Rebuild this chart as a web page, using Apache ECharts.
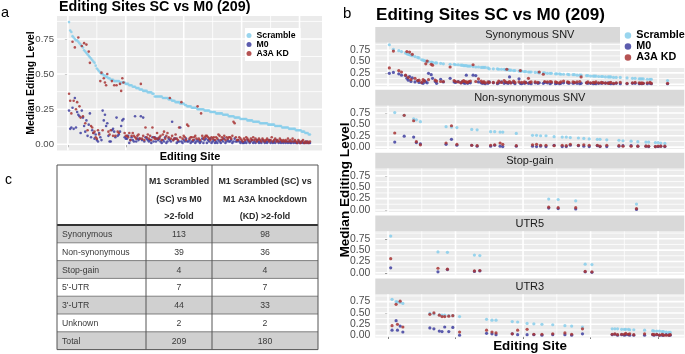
<!DOCTYPE html>
<html lang="en">
  <head>
    <meta charset="UTF-8" />
    <title>Editing Sites SC vs M0 (209)</title>
    <script src="https://cdn.jsdelivr.net/npm/echarts@6.0.0/dist/echarts.min.js"></script>
    <style>
      html, body { margin: 0; padding: 0; background: #fff; }
    </style>
  </head>

  <body>
    <div id="main" style="width: 685px; height: 354px"></div>

    <script>
      // median editing level per site, sites ranked by Scramble level (1..209)
      var scramble = [
        0.87, 0.81, 0.80, 0.77, 0.76, 0.75, 0.74, 0.74, 0.73, 0.72,
        0.71, 0.70, 0.69, 0.67, 0.66, 0.65, 0.64, 0.63, 0.62, 0.61,
        0.60, 0.59, 0.58, 0.56, 0.54, 0.53, 0.52, 0.51, 0.50, 0.50,
        0.49, 0.49, 0.48, 0.48, 0.47, 0.47, 0.46, 0.46, 0.46, 0.45,
        0.45, 0.45, 0.45, 0.45, 0.44, 0.44, 0.44, 0.44, 0.44, 0.43,
        0.43, 0.43, 0.42, 0.42, 0.42, 0.41, 0.41, 0.41, 0.40, 0.40,
        0.40, 0.39, 0.39, 0.39, 0.38, 0.38, 0.38, 0.38, 0.37, 0.37,
        0.37, 0.37, 0.36, 0.36, 0.34, 0.34, 0.34, 0.34, 0.34, 0.34,
        0.34, 0.33, 0.33, 0.33, 0.33, 0.33, 0.32, 0.32, 0.32, 0.31,
        0.31, 0.31, 0.30, 0.30, 0.30, 0.30, 0.29, 0.29, 0.29, 0.29,
        0.28, 0.28, 0.27, 0.27, 0.27, 0.27, 0.26, 0.26, 0.26, 0.26,
        0.26, 0.25, 0.25, 0.25, 0.25, 0.25, 0.25, 0.24, 0.24, 0.24,
        0.24, 0.24, 0.23, 0.23, 0.23, 0.23, 0.23, 0.22, 0.22, 0.22,
        0.22, 0.22, 0.22, 0.21, 0.21, 0.21, 0.21, 0.21, 0.20, 0.20,
        0.20, 0.20, 0.20, 0.19, 0.19, 0.19, 0.19, 0.19, 0.18, 0.18,
        0.18, 0.18, 0.18, 0.18, 0.17, 0.17, 0.17, 0.17, 0.17, 0.16,
        0.16, 0.16, 0.16, 0.16, 0.16, 0.15, 0.15, 0.15, 0.15, 0.15,
        0.15, 0.15, 0.14, 0.14, 0.14, 0.14, 0.14, 0.14, 0.13, 0.13,
        0.13, 0.13, 0.13, 0.13, 0.12, 0.12, 0.12, 0.12, 0.12, 0.12,
        0.11, 0.11, 0.11, 0.11, 0.11, 0.11, 0.10, 0.10, 0.10, 0.10,
        0.10, 0.09, 0.09, 0.09, 0.08, 0.08, 0.08, 0.07, 0.07
      ];
      var m0 = [
        0.24, 0.11, 0.12, 0.26, 0.11, 0.33, 0.12, 0.23, 0.21, 0.20,
        0.08, 0.24, 0.19, 0.13, 0.09, 0.17, 0.06, 0.14, 0.22, 0.05,
        0.10, 0.08, 0.04, 0.07, 0.03, 0.02, 0.08, 0.05, 0.03, 0.24,
        0.17, 0.21, 0.13, 0.15, 0.06, 0.02, 0.02, 0.10, 0.11, 0.09,
        0.05, 0.19, 0.06, 0.07, 0.09, 0.13, 0.17, 0.18, 0.05, 0.04,
        0.04, 0.06, 0.01, 0.03, 0.05, 0.03, 0.02, 0.20, 0.02, 0.04,
        0.03, 0.04, 0.20, 0.03, 0.19, 0.02, 0.05, 0.04, 0.03, 0.02,
        0.03, 0.01, 0.05, 0.02, 0.05, 0.02, 0.04, 0.03, 0.04, 0.02,
        0.01, 0.03, 0.02, 0.05, 0.01, 0.02, 0.04, 0.03, 0.02, 0.16,
        0.03, 0.04, 0.04, 0.01, 0.02, 0.02, 0.12, 0.02, 0.01, 0.03,
        0.02, 0.04, 0.02, 0.02, 0.03, 0.01, 0.02, 0.02, 0.03, 0.01,
        0.02, 0.03, 0.02, 0.01, 0.02, 0.04, 0.01, 0.03, 0.04, 0.01,
        0.03, 0.02, 0.04, 0.01, 0.02, 0.03, 0.01, 0.02, 0.01, 0.03,
        0.02, 0.01, 0.03, 0.02, 0.04, 0.01, 0.02, 0.03, 0.02, 0.02,
        0.03, 0.01, 0.02, 0.04, 0.02, 0.02, 0.03, 0.02, 0.01, 0.02,
        0.01, 0.01, 0.02, 0.01, 0.03, 0.02, 0.01, 0.02, 0.03, 0.01,
        0.02, 0.01, 0.03, 0.02, 0.01, 0.02, 0.01, 0.03, 0.02, 0.01,
        0.02, 0.01, 0.02, 0.03, 0.01, 0.02, 0.01, 0.02, 0.01, 0.03,
        0.02, 0.01, 0.02, 0.01, 0.02, 0.01, 0.02, 0.01, 0.02, 0.01,
        0.02, 0.01, 0.01, 0.02, 0.01, 0.02, 0.01, 0.01, 0.02, 0.01,
        0.01, 0.02, 0.01, 0.01, 0.01, 0.02, 0.01, 0.01, 0.01
      ];
      var kd = [
        0.36, 0.31, 0.22, 0.73, 0.31, 0.69, 0.25, 0.30, 0.76, 0.27,
        0.19, 0.70, 0.20, 0.72, 0.15, 0.71, 0.10, 0.66, 0.58, 0.13,
        0.12, 0.08, 0.09, 0.05, 0.04, 0.10, 0.07, 0.45, 0.51, 0.10,
        0.47, 0.44, 0.42, 0.50, 0.09, 0.07, 0.10, 0.45, 0.06, 0.42,
        0.06, 0.42, 0.09, 0.08, 0.43, 0.38, 0.47, 0.44, 0.08, 0.06,
        0.06, 0.05, 0.08, 0.03, 0.06, 0.08, 0.06, 0.05, 0.04, 0.06,
        0.07, 0.04, 0.43, 0.04, 0.06, 0.03, 0.12, 0.05, 0.07, 0.04,
        0.06, 0.03, 0.12, 0.05, 0.04, 0.04, 0.08, 0.04, 0.05, 0.06,
        0.03, 0.07, 0.09, 0.04, 0.06, 0.08, 0.05, 0.33, 0.04, 0.06,
        0.03, 0.04, 0.07, 0.04, 0.03, 0.12, 0.05, 0.30, 0.04, 0.06,
        0.05, 0.03, 0.14, 0.13, 0.04, 0.05, 0.05, 0.03, 0.05, 0.06,
        0.04, 0.27, 0.04, 0.03, 0.22, 0.06, 0.04, 0.05, 0.06, 0.06,
        0.05, 0.04, 0.03, 0.05, 0.04, 0.05, 0.03, 0.05, 0.04, 0.07,
        0.06, 0.03, 0.05, 0.04, 0.06, 0.03, 0.05, 0.04, 0.05, 0.05,
        0.04, 0.06, 0.16, 0.15, 0.05, 0.03, 0.03, 0.05, 0.04, 0.03,
        0.02, 0.04, 0.03, 0.05, 0.04, 0.03, 0.02, 0.04, 0.03, 0.05,
        0.03, 0.04, 0.02, 0.03, 0.04, 0.03, 0.02, 0.04, 0.03, 0.02,
        0.03, 0.04, 0.03, 0.02, 0.03, 0.05, 0.02, 0.03, 0.04, 0.02,
        0.03, 0.02, 0.04, 0.03, 0.02, 0.03, 0.02, 0.03, 0.02, 0.04,
        0.02, 0.03, 0.02, 0.04, 0.02, 0.03, 0.02, 0.01, 0.03, 0.02,
        0.01, 0.02, 0.03, 0.01, 0.02, 0.01, 0.02, 0.01, 0.02
      ];
      // S synonymous, N non-synonymous, G stop-gain, F UTR5, T UTR3, U unknown
      var siteType = [
        "S","F","T","S","N","T","T","S","T","S",
        "T","N","S","S","S","S","S","S","N","S",
        "N","S","S","N","S","S","S","S","S","S",
        "T","S","S","T","S","S","F","T","S","T",
        "S","T","N","F","T","S","N","T","S","S",
        "N","S","T","S","S","S","S","S","S","S",
        "S","N","S","F","S","N","S","F","S","S",
        "S","S","T","S","S","N","T","S","N","T",
        "S","S","N","S","N","S","S","S","S","S",
        "S","T","S","S","N","T","S","S","S","U",
        "S","S","T","S","S","S","N","T","S","N",
        "S","S","N","T","S","S","N","S","G","S",
        "S","T","N","S","S","G","S","S","N","S",
        "T","N","S","S","N","T","S","S","G","S",
        "N","S","S","T","N","F","S","S","N","S",
        "F","S","S","S","N","S","N","S","S","U",
        "S","N","S","S","S","T","S","T","S","T",
        "N","S","T","N","T","T","S","T","T","N",
        "S","T","S","G","N","S","S","S","S","T",
        "N","S","N","S","S","T","T","N","T","N",
        "T","N","T","T","N","T","S","T","T"
      ];
      var facetCodes = ["S", "N", "G", "F", "T"];
      var facetNames = ["Synonymous SNV", "Non-synonymous SNV", "Stop-gain", "UTR5", "UTR3"];
      var seriesNames = ["Scramble", "M0", "A3A KD"];
      var yTicks = [0, 0.25, 0.5, 0.75];
      var yMinor = [0.125, 0.375, 0.625, 0.875];
      var xTicks = [0, 50, 100, 150, 200];
      var xMinor = [25, 75, 125, 175];

      var tableRows = ["Synonymous", "Non-synonymous", "Stop-gain", "5'-UTR", "3'-UTR", "Unknown", "Total"];
      var countSCvsM0 = [113, 39, 4, 7, 44, 2, 209];
      var countSCvsKD = [98, 36, 4, 7, 33, 2, 180];
      var headM0 = ["M1 Scrambled", "(SC) vs M0", ">2-fold"];
      var headKD = ["M1 Scrambled (SC) vs", "M1 A3A knockdown", "(KD) >2-fold"];

      var FONT = "'Liberation Sans', Arial, Helvetica, sans-serif";
      var colors = ["#87CEEB", "#3F3FA0", "#A83535"];
      var yMin = -0.0435, yMax = 0.9135, xMin = -9.4, xMax = 219.4;

      var myChart = echarts.init(document.getElementById("main"));

      function pick(values, code) {
        var out = [];
        for (var i = 0; i < values.length; i++) {
          if (code === null || siteType[i] === code) out.push([i + 1, values[i]]);
        }
        return out;
      }

      // panel a + five facets of panel b
      var boxes = [{ left: 57, top: 16, width: 265, height: 134.4 }];
      for (var f = 0; f < 5; f++) {
        boxes.push({ left: 375.3, top: 42.8 + 62.85 * f, width: 309, height: 43.4 });
      }

      var grids = [], xAxes = [], yAxes = [], series = [], graphics = [];

      boxes.forEach(function (b, g) {
        var isA = g === 0;
        grids.push({ left: b.left, top: b.top, width: b.width, height: b.height, show: false });
        // grey panel background
        graphics.push({
          type: "rect", z: 0, silent: true,
          shape: { x: b.left, y: b.top, width: b.width, height: b.height },
          style: { fill: "#EBEBEB" }
        });
        xAxes.push({
          type: "value", gridIndex: g, min: xMin, max: xMax,
          axisLine: { show: false },
          axisLabel: { show: false },
          splitLine: { show: false },
          axisTick: {
            show: isA || g === 5, length: 3, customValues: xTicks,
            lineStyle: { color: "#333", width: 1 }
          }
        });
        yAxes.push({
          type: "value", gridIndex: g, min: yMin, max: yMax,
          axisLine: { show: false },
          splitLine: { show: false },
          axisTick: { show: true, length: 3, customValues: yTicks, lineStyle: { color: "#333", width: 1 } },
          axisLabel: {
            customValues: yTicks, margin: isA ? 3 : 5,
            fontSize: isA ? 9.6 : 10.4, color: "#4D4D4D", fontFamily: FONT,
            formatter: function (v) { return v.toFixed(2); }
          }
        });

        var code = isA ? null : facetCodes[g - 1];
        [scramble, m0, kd].forEach(function (vals, k) {
          series.push({
            name: seriesNames[k], type: "scatter", xAxisIndex: g, yAxisIndex: g,
            symbolSize: isA ? 2.6 : 3.2, z: 3 + k,
            itemStyle: { color: colors[k], opacity: 0.85 },
            data: pick(vals, code)
          });
        });

        if (!isA) {
          graphics.push({
            type: "rect", z: 1,
            shape: { x: b.left, y: b.top - 15.8, width: b.width, height: 15.8 },
            style: { fill: "#D9D9D9" }
          });
          graphics.push({
            type: "text", z: 2, x: b.left + b.width / 2, y: b.top - 7.6,
            style: {
              text: facetNames[g - 1], fontSize: 11, fontFamily: FONT, fill: "#1A1A1A",
              align: "center", verticalAlign: "middle"
            }
          });
        }
      });

      function txt(x, y, text, size, opts) {
        opts = opts || {};
        return {
          type: "text", x: x, y: y, z: opts.z || 6, rotation: opts.rotation || 0,
          style: {
            text: text, fontSize: size, fontFamily: FONT,
            fontWeight: opts.bold ? "bold" : "normal",
            fill: opts.fill || "#000", align: opts.align || "left", verticalAlign: "middle"
          }
        };
      }

      // panel letters, titles, axis names
      graphics.push(txt(1, 13, "a", 14.5));
      graphics.push(txt(343, 14, "b", 15));
      graphics.push(txt(5, 180, "c", 14));
      graphics.push(txt(59, 7.5, "Editing Sites SC vs M0 (209)", 14.3, { bold: true }));
      graphics.push(txt(376, 15, "Editing Sites SC vs M0 (209)", 17.1, { bold: true }));
      graphics.push(txt(31, 83, "Median Editing Level", 10.4, { bold: true, align: "center", rotation: Math.PI / 2 }));
      graphics.push(txt(190, 157, "Editing Site", 11, { bold: true, align: "center" }));
      graphics.push(txt(345, 190, "Median Editing Level", 13.6, { bold: true, align: "center", rotation: Math.PI / 2 }));
      graphics.push(txt(530, 346, "Editing Site", 13.4, { bold: true, align: "center" }));

      // panel c table
      var colX = [57, 146, 212, 318];
      var tTop = 165, headH = 60, rowH = 17.8;
      var tBottom = tTop + headH + rowH * tableRows.length;
      graphics.push({
        type: "rect", z: 7, shape: { x: colX[0], y: tTop, width: colX[3] - colX[0], height: headH },
        style: { fill: "#FFFFFF" }
      });
      tableRows.forEach(function (name, r) {
        var y0 = tTop + headH + r * rowH;
        graphics.push({
          type: "rect", z: 7, shape: { x: colX[0], y: y0, width: colX[3] - colX[0], height: rowH },
          style: { fill: r % 2 === 0 ? "#D0D0D0" : "#FFFFFF" }
        });
        if (r > 0) {
          graphics.push({
            type: "line", z: 8, shape: { x1: colX[0], y1: y0, x2: colX[3], y2: y0 },
            style: { stroke: "#666", lineWidth: 0.8 }
          });
        }
        var yc = y0 + rowH / 2 + 0.8;
        graphics.push(txt(colX[0] + 5, yc, name, 8.7, { fill: "#3A3A3A", z: 9 }));
        graphics.push(txt((colX[1] + colX[2]) / 2, yc, String(countSCvsM0[r]), 8.7, { fill: "#3A3A3A", align: "center", z: 9 }));
        graphics.push(txt((colX[2] + colX[3]) / 2, yc, String(countSCvsKD[r]), 8.7, { fill: "#3A3A3A", align: "center", z: 9 }));
      });
      [182, 199.5, 217].forEach(function (y, i) {
        graphics.push(txt((colX[1] + colX[2]) / 2, y, headM0[i], 8.9, { bold: true, fill: "#2A2A2A", align: "center", z: 9 }));
        graphics.push(txt((colX[2] + colX[3]) / 2, y, headKD[i], 8.9, { bold: true, fill: "#2A2A2A", align: "center", z: 9 }));
      });
      graphics.push({
        type: "line", z: 8, shape: { x1: colX[0], y1: tTop + headH, x2: colX[3], y2: tTop + headH },
        style: { stroke: "#333", lineWidth: 2 }
      });
      [1, 2].forEach(function (c) {
        graphics.push({
          type: "line", z: 8, shape: { x1: colX[c], y1: tTop, x2: colX[c], y2: tBottom },
          style: { stroke: "#555", lineWidth: 1 }
        });
      });
      graphics.push({
        type: "rect", z: 8, shape: { x: colX[0], y: tTop, width: colX[3] - colX[0], height: tBottom - tTop },
        style: { fill: "none", stroke: "#555", lineWidth: 1 }
      });

      var option = {
        animation: false,
        textStyle: { fontFamily: FONT },
        grid: grids,
        xAxis: xAxes,
        yAxis: yAxes,
        legend: [
          {
            data: seriesNames, left: 245, top: 28, orient: "vertical", selectedMode: false,
            icon: "circle", itemWidth: 5, itemHeight: 5, itemGap: 0, z: 20,
            padding: [3, 5, 3, 1.5], backgroundColor: "#FFFFFF",
            textStyle: { fontSize: 8.7, fontWeight: "bold", color: "#000", lineHeight: 8.5, fontFamily: FONT }
          },
          {
            data: seriesNames, left: 620, top: 23, orient: "vertical", selectedMode: false,
            icon: "circle", itemWidth: 6.5, itemHeight: 6.5, itemGap: 0, z: 20,
            padding: [7, 3, 5, 4.7], backgroundColor: "#FFFFFF",
            textStyle: { fontSize: 10.8, fontWeight: "bold", color: "#000", lineHeight: 10, fontFamily: FONT }
          }
        ],
        graphic: { elements: graphics },
        series: series
      };
      myChart.setOption(option);

      // white panel grid lines at the axes' break values (ggplot style)
      var gridEls = [];
      boxes.forEach(function (b, g) {
        function addLine(p1, p2, w) {
          gridEls.push({
            type: "line", z: 2, silent: true,
            shape: { x1: p1[0], y1: p1[1], x2: p2[0], y2: p2[1] },
            style: { stroke: "#FFFFFF", lineWidth: w }
          });
        }
        function px(x, y) { return myChart.convertToPixel({ gridIndex: g }, [x, y]); }
        yMinor.forEach(function (v) { addLine(px(xMin, v), px(xMax, v), 0.8); });
        xMinor.forEach(function (v) { addLine(px(v, yMin), px(v, yMax), 0.8); });
        yTicks.forEach(function (v) { addLine(px(xMin, v), px(xMax, v), 1.6); });
        xTicks.forEach(function (v) { addLine(px(v, yMin), px(v, yMax), 1.6); });
      });
      myChart.setOption({ graphic: { elements: graphics.concat(gridEls) } });
    </script>
  </body>
</html>
